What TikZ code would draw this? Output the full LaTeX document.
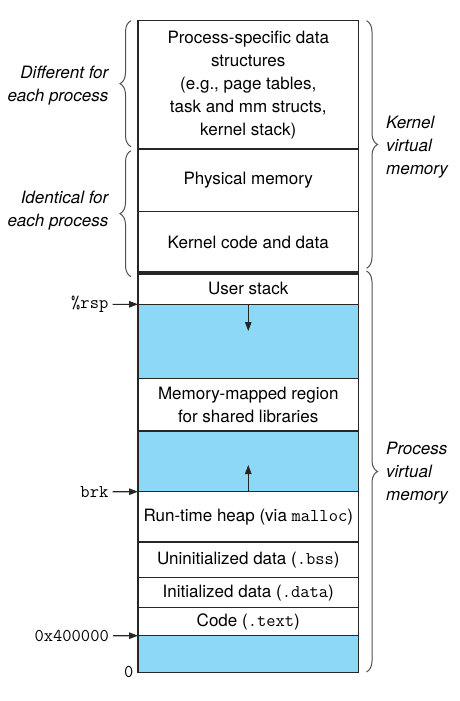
\documentclass[tikz,border=0pt]{standalone}
\usepackage{fontspec}
\setmainfont{TeX Gyre Heros}
\usetikzlibrary{decorations.pathreplacing,arrows.meta}
\definecolor{memblue}{RGB}{141,216,246}
\definecolor{bracegray}{RGB}{80,80,80}
\newcommand{\cd}[1]{{\ttfamily\fontsize{18}{22}\selectfont #1}}
\begin{document}
\begin{tikzpicture}[x=1pt,y=-1pt,
  region/.style={draw=black!85, line width=1.2pt, minimum width=220.5pt,
    inner sep=0pt, outer sep=0pt, anchor=north west, align=center,
    font=\fontsize{17}{23}\selectfont},
  freemem/.style={region, fill=memblue},
  sidelab/.style={inner sep=0pt, align=left, font=\itshape\fontsize{17}{23}\selectfont},
  addr/.style={inner sep=0pt},
  ptr/.style={-{Triangle[length=9pt,width=6.5pt]}, line width=1.1pt, draw=black!85},
  brc/.style={decorate, decoration={brace, amplitude=11pt}, draw=bracegray, line width=1pt}
]
\useasboundingbox (0,0) rectangle (460,701);

% regions
\node[region, minimum height=128.3pt] (ps) at (138,20.7)
  {Process-specific data\\structures\\(e.g., page tables,\\task and mm structs,\\kernel stack)};
\node[region, minimum height=62.7pt] (phys) at (ps.south west) {Physical memory};
\node[region, minimum height=61.5pt] (kcode) at (phys.south west) {Kernel code and data};
\node[region, minimum height=31.1pt] (ustack) at (kcode.south west) {User stack};
\node[freemem, minimum height=74pt] (gap1) at (ustack.south west) {};
\node[region, minimum height=52.7pt] (mmap) at (gap1.south west) {Memory-mapped region\\for shared libraries};
\node[freemem, minimum height=60.7pt] (gap2) at (mmap.south west) {};
\node[region, minimum height=50.3pt] (heap) at (gap2.south west) {Run-time heap (via \cd{malloc})};
\node[region, minimum height=35.7pt] (bss) at (heap.south west) {Uninitialized data (\cd{.bss})};
\node[region, minimum height=30pt] (data) at (bss.south west) {Initialized data (\cd{.data})};
\node[region, minimum height=28pt] (text) at (data.south west) {Code (\cd{.text})};
\node[freemem, minimum height=36.6pt] (gap3) at (text.south west) {};

% thick kernel/user boundary
\draw[line width=3.5pt, black!85] (kcode.south west) -- (kcode.south east);

% growth arrows
\coordinate (stacktip) at (248.25,331);
\coordinate (heaptip) at (248.25,465);
\draw[ptr] (ustack.south) -- (stacktip);
\draw[ptr] (heap.north) -- (heaptip);

% address labels
\node[addr, anchor=east] (rsp) at (108.5,304.3) {\cd{\%rsp}};
\node[addr, anchor=east] (brk) at (108.5,491.7) {\cd{brk}};
\node[addr, anchor=east] (base) at (109,635.7) {\cd{0x400000}};
\node[addr, anchor=east] (zero) at (133.5,672.3) {\cd{0}};
\draw[ptr, shorten <=4pt] (rsp.east) -- (gap1.north west);
\draw[ptr, shorten <=4pt] (brk.east) -- (heap.north west);
\draw[ptr, shorten <=4pt] (base.east) -- (gap3.north west);

% braces
\coordinate (bdt) at (131,20.7);
\coordinate (bdb) at (131,146.7);
\coordinate (bit) at (131,150.7);
\coordinate (bib) at (131,276.7);
\coordinate (bkt) at (366.5,20.7);
\coordinate (bkb) at (366.5,268.3);
\coordinate (bpt) at (366.5,271);
\coordinate (bpb) at (366.5,672);
\draw[brc] (bdb) -- (bdt);
\draw[brc] (bib) -- (bit);
\draw[brc] (bkt) -- (bkb);
\draw[brc] (bpt) -- (bpb);

% side labels
\node[sidelab, anchor=east, align=right] (diff) at (108.5,85.5) {Different for\\each process};
\node[sidelab, anchor=east, align=right] (ident) at (108.5,210.5) {Identical for\\each process};
\node[sidelab, anchor=west] (kvm) at (386,147) {Kernel\\virtual\\memory};
\node[sidelab, anchor=west] (pvm) at (386,473.5) {Process\\virtual\\memory};
\end{tikzpicture}
\end{document}
